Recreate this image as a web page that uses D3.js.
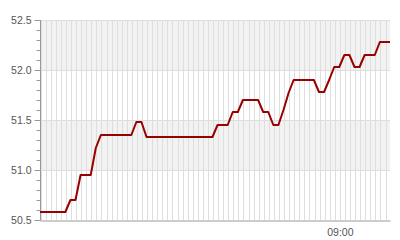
<!DOCTYPE html>
<html>
<head>
<meta charset="utf-8">
<script src="https://cdn.jsdelivr.net/npm/d3@7"></script>
<style>
body { margin: 0; background: #fff; }
svg { display: block; font-family: "Liberation Sans", Arial, sans-serif; }
.axis text { fill: #555; font-size: 10.5px; }
</style>
</head>
<body>
<svg id="chart" width="400" height="240"></svg>
<script>
// sample times (one per minute)
const times = [
"08:00:53","08:01:53","08:02:53","08:03:53","08:04:53","08:05:53","08:06:53","08:07:53","08:08:53","08:09:53",
"08:10:53","08:11:53","08:12:53","08:13:53","08:14:53","08:15:53","08:16:53","08:17:53","08:18:53","08:19:53",
"08:20:53","08:21:53","08:22:53","08:23:53","08:24:53","08:25:53","08:26:53","08:27:53","08:28:53","08:29:53",
"08:30:53","08:31:53","08:32:53","08:33:53","08:34:53","08:35:53","08:36:53","08:37:53","08:38:53","08:39:53",
"08:40:53","08:41:53","08:42:53","08:43:53","08:44:53","08:45:53","08:46:53","08:47:53","08:48:53","08:49:53",
"08:50:53","08:51:53","08:52:53","08:53:53","08:54:53","08:55:53","08:56:53","08:57:53","08:58:53","08:59:53",
"09:00:53","09:01:53","09:02:53","09:03:53","09:04:53","09:05:53","09:06:53","09:07:53","09:08:53","09:09:53"
];
const values = [
50.58,50.58,50.58,50.58,50.58,50.58,50.70,50.70,50.95,50.95,
50.95,51.22,51.35,51.35,51.35,51.35,51.35,51.35,51.35,51.48,
51.48,51.33,51.33,51.33,51.33,51.33,51.33,51.33,51.33,51.33,
51.33,51.33,51.33,51.33,51.33,51.45,51.45,51.45,51.58,51.58,
51.70,51.70,51.70,51.70,51.58,51.58,51.45,51.45,51.60,51.77,
51.90,51.90,51.90,51.90,51.90,51.78,51.78,51.90,52.03,52.03,
52.15,52.15,52.03,52.03,52.15,52.15,52.15,52.28,52.28,52.28
];
const yTicks = [50.5, 51.0, 51.5, 52.0, 52.5];
const xLabels = ["09:00"];

const margin = {left: 40, right: 10, top: 20, bottom: 20};
const W = 400, H = 240;

const parse = d3.timeParse("%H:%M:%S");
const parseLabel = d3.timeParse("%H:%M");
const data = times.map((t, i) => ({t: parse(t), v: values[i]}));

const svg = d3.select("#chart");

const x = d3.scaleTime()
  .domain(d3.extent(data, d => d.t))
  .range([margin.left, W - margin.right]);
const y = d3.scaleLinear()
  .domain([50.5, 52.5])
  .range([H - margin.bottom, margin.top]);

// alternating bands
const bands = d3.pairs(yTicks).filter((p, i) => i % 2 === 1);
svg.append("g").selectAll("rect")
  .data(bands)
  .enter().append("rect")
  .attr("x", margin.left)
  .attr("width", W - margin.right - margin.left)
  .attr("y", d => y(d[1]))
  .attr("height", d => y(d[0]) - y(d[1]))
  .attr("fill", "#f2f2f2");

// minute grid
const minutes = d3.timeMinute.range(x.domain()[0], x.domain()[1]);
svg.append("g").selectAll("line")
  .data(minutes)
  .enter().append("line")
  .attr("x1", d => Math.round(x(d)) + 0.5)
  .attr("x2", d => Math.round(x(d)) + 0.5)
  .attr("y1", y(52.5))
  .attr("y2", y(50.5))
  .attr("stroke", "#dedede");

// horizontal grid
svg.append("g").selectAll("line")
  .data(yTicks.slice(1))
  .enter().append("line")
  .attr("x1", margin.left)
  .attr("x2", W - margin.right)
  .attr("y1", d => Math.round(y(d)) + 0.5)
  .attr("y2", d => Math.round(y(d)) + 0.5)
  .attr("stroke", "#dedede");

// y axis
const yMinor = d3.axisLeft(y).ticks(20).tickSize(4).tickFormat("");
svg.append("g").attr("class", "axis")
  .attr("transform", `translate(${margin.left + 0.5},0)`)
  .call(yMinor)
  .call(g => g.selectAll("line").attr("stroke", "#999"))
  .call(g => g.select(".domain").remove());

const yAxis = d3.axisLeft(y).tickValues(yTicks).tickFormat(d3.format(".1f")).tickSize(6).tickPadding(3);
svg.append("g").attr("class", "axis")
  .attr("transform", `translate(${margin.left + 0.5},0)`)
  .call(yAxis)
  .call(g => g.selectAll("line").attr("stroke", "#999"))
  .call(g => g.select(".domain").attr("stroke", "#999").attr("d", `M0,${y(52.5)}V${y(50.5)}`));

// x axis
const xAxis = d3.axisBottom(x)
  .tickValues(xLabels.map(parseLabel).map(d => { const t = new Date(data[0].t); t.setHours(d.getHours(), d.getMinutes(), 0); return t; }))
  .tickFormat(d3.timeFormat("%H:%M"))
  .tickSize(0).tickPadding(8);
svg.append("g").attr("class", "axis")
  .attr("transform", `translate(0,${H - margin.bottom + 0.5})`)
  .call(xAxis)
  .call(g => g.select(".domain").attr("stroke", "#999"));

// line
const line = d3.line()
  .x(d => x(d.t))
  .y(d => y(d.v));
svg.append("path")
  .datum(data)
  .attr("fill", "none")
  .attr("stroke", "#990000")
  .attr("stroke-width", 2)
  .attr("stroke-linejoin", "round")
  .attr("d", line);
</script>
</body>
</html>
